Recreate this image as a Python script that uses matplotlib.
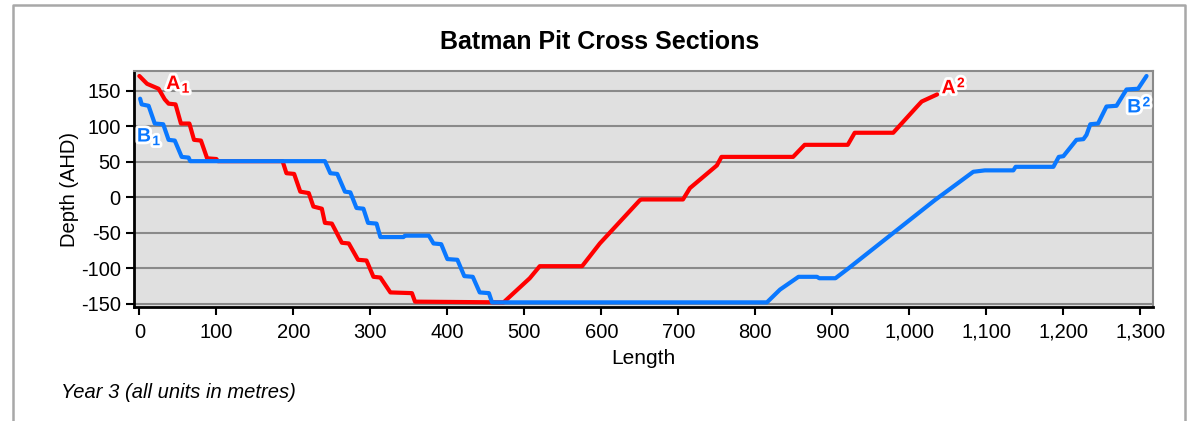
import matplotlib
matplotlib.use("Agg")
import matplotlib.pyplot as plt
import matplotlib.patheffects as pe
from matplotlib.lines import Line2D
from matplotlib.ticker import FuncFormatter

# ---------------------------------------------------------------------------
# Data
# ---------------------------------------------------------------------------

a_length = [0, 10, 25, 33, 38, 47, 54, 65, 71, 80, 88, 100, 102, 186, 191, 201, 209,
            220, 226, 237, 241, 250, 263, 272, 284, 295, 304, 313, 326, 354,
            358, 473, 507, 520, 575, 598, 650, 652, 706, 715, 750, 756, 849,
            864, 920, 929, 979, 1010, 1016, 1036]
a_depth = [171, 160, 153, 138, 132, 131, 104, 104, 81, 80, 55, 54, 51, 51, 34, 33, 8,
           6, -13, -16, -36, -37, -64, -65, -88, -89, -112, -113, -134, -135,
           -147, -148, -114, -97, -97, -65, -4, -3, -3, 13, 45, 57, 57,
           74, 74, 91, 91, 128, 135, 145]

b_length = [1, 3, 12, 20, 31, 38, 46, 55, 64, 66, 241, 248, 257, 267, 274, 282,
            291, 297, 308, 313, 343, 345, 376, 382, 392, 400, 413, 422, 433,
            442, 454, 458, 815, 832, 856, 880, 883, 904, 921, 1033, 1083, 1098,
            1135, 1138, 1187, 1194, 1200, 1217, 1226, 1230, 1235, 1245, 1256,
            1269, 1282, 1297, 1308]
b_depth = [139, 131, 129, 104, 103, 81, 80, 57, 56, 51, 51, 34, 33, 8, 7, -15,
           -16, -36, -37, -56, -56, -54, -54, -65, -66, -87, -88, -111, -112,
           -134, -135, -148, -148, -130, -112, -112, -114, -114, -100, -4, 36, 38,
           38, 43, 43, 57, 58, 81, 82, 88, 103, 104, 128,
           129, 152, 153, 171]

x_ticks = list(range(0, 1301, 100))
y_ticks = [-150, -100, -50, 0, 50, 100, 150]

# section end labels: (x, y, letter, index, superscript?)
end_labels = [
    (44, 159, "A", "1", False),
    (6, 85, "B", "1", False),
    (1051, 153, "A", "2", True),
    (1292, 126, "B", "2", True),
]

RED = "#ff0000"
BLUE = "#0a78ff"

plt.rcParams["font.family"] = ["Liberation Sans", "DejaVu Sans"]
plt.rcParams["axes.unicode_minus"] = False

fig = plt.figure(figsize=(11.95, 4.21), dpi=100)
ax = fig.add_axes([0.1121, 0.270, 0.8525, 0.5613])
ax.set_facecolor("#e0e0e0")

ax.set_yticks(y_ticks)
ax.set_xticks(x_ticks)
ax.yaxis.grid(True, color="#8a8a8a", linewidth=1.5)
ax.set_axisbelow(True)

ax.plot(a_length, a_depth, color=RED, linewidth=3, solid_capstyle="round",
        solid_joinstyle="round", zorder=3)
ax.plot(b_length, b_depth, color=BLUE, linewidth=3, solid_capstyle="round",
        solid_joinstyle="round", zorder=4)

outline = [pe.withStroke(linewidth=4, foreground="white")]
for x, y, letter, idx, sup in end_labels:
    color = RED if letter == "A" else BLUE
    ax.text(x, y, letter, color=color, fontsize=14, fontweight="bold",
            ha="center", va="center", path_effects=outline, zorder=6)
    ax.annotate(idx, (x, y), xytext=(6, 4 if sup else -3), textcoords="offset points",
                color=color, fontsize=10, fontweight="bold", ha="left", va="center",
                path_effects=outline, zorder=6)

ax.set_xlim(-7, 1316)
ax.set_ylim(-155, 178)

ax.xaxis.set_major_formatter(FuncFormatter(lambda v, p: f"{int(v):,}"))
ax.tick_params(axis="both", labelsize=14.5, length=6, width=1.5, color="black")
ax.tick_params(axis="x", pad=5)

for side in ("left", "bottom"):
    ax.spines[side].set_color("black")
    ax.spines[side].set_linewidth(2)
for side in ("top", "right"):
    ax.spines[side].set_color("#8a8a8a")
    ax.spines[side].set_linewidth(1.5)

ax.set_xlabel("Length", fontsize=15, labelpad=5)
ax.set_ylabel("Depth (AHD)", fontsize=14.5, labelpad=1)

fig.text(0.502, 0.90, "Batman Pit Cross Sections", fontsize=18, fontweight="bold",
         ha="center", va="center")
fig.text(61 / 1195, 1 - 393 / 421, "Year 3 (all units in metres)", fontsize=14.5,
         style="italic", ha="left", va="center")

# outer frame (open at the bottom)
fx0, fx1, fy1 = 13 / 1195, 1185 / 1195, 1 - 5 / 421
fig.add_artist(Line2D([fx0, fx0, fx1, fx1], [0, fy1, fy1, 0],
                      color="#a8a8a8", linewidth=1.8, transform=fig.transFigure))

fig.savefig("out.png", dpi=100)
